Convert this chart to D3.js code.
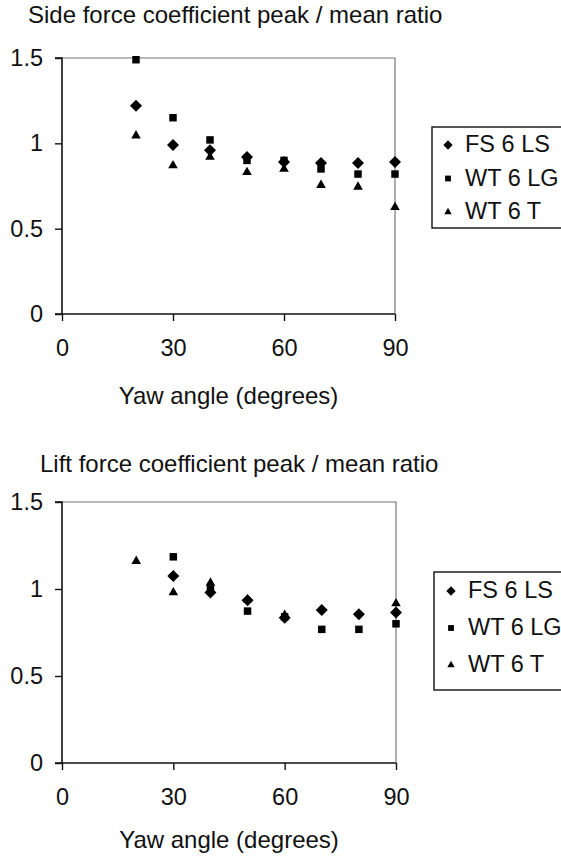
<!DOCTYPE html>
<html lang="en">
<head>
  <meta charset="UTF-8">
  <title>Peak / mean ratio vs yaw angle</title>
  <script src="https://d3js.org/d3.v7.min.js"></script>
  <style>
    body { margin: 0; background: #fff; }
    text { font-family: "Liberation Sans", Arial, sans-serif; fill: #111; }
  </style>
</head>
<body>
  <svg id="chart" width="561" height="859"></svg>
  <script>
    // yaw angles shared by both charts
    const yaw = [20, 30, 40, 50, 60, 70, 80, 90];
    const seriesNames = ["FS 6 LS", "WT 6 LG", "WT 6 T"];
    const xTicks = [0, 30, 60, 90];
    const yTicks = [0, 0.5, 1, 1.5];

    // side force ratio
    const sideFS = [1.22, 0.99, 0.96, 0.92, 0.89, 0.885, 0.885, 0.89];
    const sideLG = [1.49, 1.15, 1.02, 0.90, 0.90, 0.85, 0.82, 0.82];
    const sideT  = [1.045, 0.87, 0.92, 0.83, 0.85, 0.755, 0.745, 0.625];

    // lift force ratio
    const liftFS = [null, 1.075, 0.98, 0.935, 0.835, 0.88, 0.855, 0.865];
    const liftLG = [null, 1.185, 1.0, 0.873, 0.84, 0.768, 0.768, 0.80];
    const liftT  = [1.16, 0.98, 1.035, 0.94, 0.85, null, null, 0.917];

    const svg = d3.select("#chart");
    const FS = 23.5;
    // diamond = square turned 45deg
    const shapes = [d3.symbolSquare, d3.symbolSquare, d3.symbolTriangle];
    const rot = [45, 0, 0];
    const sizes = [72, 56, 40];

    function drawPanel(opt) {
      const x = d3.scaleLinear().domain([0, 90]).range([opt.left, opt.right]);
      const y = d3.scaleLinear().domain([0, 1.5]).range([opt.bottom, opt.top]);

      svg.append("text")
        .attr("x", opt.titleX).attr("y", opt.titleY)
        .attr("font-size", 24)
        .text(opt.title);

      // plot frame (top and right in grey)
      svg.append("path")
        .attr("d", `M${opt.left},${opt.top}H${opt.right}V${opt.bottom}`)
        .attr("fill", "none").attr("stroke", "#777").attr("stroke-width", 1.2);

      const ya = svg.append("g")
        .attr("transform", `translate(${opt.left},0)`)
        .call(d3.axisLeft(y).tickValues(yTicks).tickSize(7).tickPadding(12)
          .tickFormat(d => d));
      const xa = svg.append("g")
        .attr("transform", `translate(0,${opt.bottom})`)
        .call(d3.axisBottom(x).tickValues(xTicks).tickSize(7).tickPadding(18));
      [ya, xa].forEach(a => {
        a.select(".domain").attr("stroke", "#111").attr("stroke-width", 1.6);
        a.selectAll(".tick line").attr("stroke", "#111").attr("stroke-width", 1.4);
        a.selectAll("text").attr("font-size", FS)
          .attr("font-family", "Liberation Sans, Arial, sans-serif").attr("fill", "#111");
      });
      ya.select(".domain").attr("d", `M-7,${opt.top}H0V${opt.bottom}`);
      xa.select(".domain").attr("d", `M${opt.left - 7},0H${opt.right}`);

      svg.append("text")
        .attr("x", (opt.left + opt.right) / 2).attr("y", opt.bottom + opt.labelGap)
        .attr("text-anchor", "middle").attr("font-size", 24)
        .text("Yaw angle (degrees)");

      opt.series.forEach((vals, i) => {
        const pts = yaw.map((a, j) => ({ a, v: vals[j] })).filter(d => d.v != null);
        svg.append("g").selectAll("path")
          .data(pts).join("path")
          .attr("d", d3.symbol().type(shapes[i]).size(sizes[i]))
          .attr("transform", d => `translate(${x(d.a)},${y(d.v)}) rotate(${rot[i]})`)
          .attr("fill", "#000");
      });

      // legend
      const lg = svg.append("g").attr("transform", `translate(${opt.legX},${opt.legY})`);
      lg.append("rect")
        .attr("x", 0).attr("y", 0).attr("width", 140).attr("height", opt.legH)
        .attr("fill", "#fff").attr("stroke", "#111").attr("stroke-width", 1.4);
      seriesNames.forEach((name, i) => {
        const base = opt.legRow0 + i * opt.legStep;
        lg.append("path")
          .attr("d", d3.symbol().type(shapes[i]).size(sizes[i] * 0.6))
          .attr("transform", `translate(${opt.markX},${base - 7}) rotate(${rot[i]})`)
          .attr("fill", "#000");
        lg.append("text")
          .attr("x", opt.markX + 17).attr("y", base)
          .attr("font-size", FS)
          .text(name);
      });
    }

    drawPanel({
      title: "Side force coefficient peak / mean ratio", titleX: 28, titleY: 23,
      left: 62, right: 395, top: 58, bottom: 314, labelGap: 90,
      series: [sideFS, sideLG, sideT],
      legX: 432, legY: 127, legH: 101, legRow0: 25, legStep: 33.5, markX: 16
    });
    drawPanel({
      title: "Lift force coefficient peak / mean ratio", titleX: 40, titleY: 472,
      left: 62, right: 396, top: 502, bottom: 763, labelGap: 85,
      series: [liftFS, liftLG, liftT],
      legX: 434, legY: 572, legH: 118, legRow0: 26, legStep: 37, markX: 17
    });
  </script>
</body>
</html>
